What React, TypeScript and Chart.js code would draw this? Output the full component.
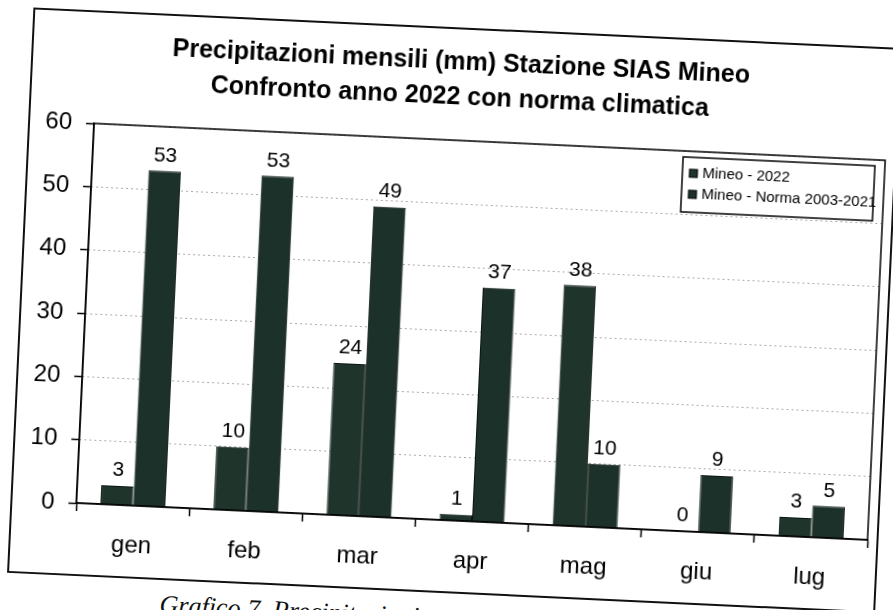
import React, { useEffect, useRef } from "react";
import { Chart, registerables } from "chart.js";

Chart.register(...registerables);

const months = ["gen", "feb", "mar", "apr", "mag", "giu", "lug"];
const mineo2022 = [3, 10, 24, 1, 38, 0, 3];
const norma = [53, 53, 49, 37, 10, 9, 5];
const seriesNames = ["Mineo - 2022", "Mineo - Norma 2003-2021"];
const yMin = 0;
const yMax = 60;
const yStep = 10;
const titleLines = [
  "Precipitazioni mensili (mm) Stazione SIAS Mineo",
  "Confronto anno 2022 con norma climatica",
];
const caption = "Grafico 7. Precipitazioni mensili";

const FONT = "'Liberation Sans', Arial, Helvetica, sans-serif";
const BAR_COLORS = ["#1f352c", "#1c3129"];
const CANVAS_W = 865;
const CANVAS_H = 562;

const valueLabels = {
  id: "valueLabels",
  afterDatasetsDraw(chart: any) {
    const ctx = chart.ctx;
    ctx.save();
    ctx.font = `21px ${FONT}`;
    ctx.fillStyle = "#000";
    ctx.textAlign = "center";
    ctx.textBaseline = "bottom";
    chart.data.datasets.forEach((ds: any, di: number) => {
      const meta = chart.getDatasetMeta(di);
      meta.data.forEach((el: any, i: number) => {
        ctx.fillText(String(ds.data[i]), el.x, el.y - 5);
      });
    });
    ctx.restore();
  },
};

const frameAndLegend = {
  id: "frameAndLegend",
  afterDraw(chart: any) {
    const ctx = chart.ctx;
    const a = chart.chartArea;
    ctx.save();
    // plot area border
    ctx.strokeStyle = "#000";
    ctx.lineWidth = 1.5;
    ctx.strokeRect(a.left, a.top, a.right - a.left, a.bottom - a.top);

    // legend box
    const w = 192;
    const h = 55;
    const lx = a.right - 10 - w;
    const ly = a.top + 6;
    ctx.fillStyle = "#fff";
    ctx.fillRect(lx, ly, w, h);
    ctx.lineWidth = 1.5;
    ctx.strokeRect(lx, ly, w, h);
    ctx.font = `15px ${FONT}`;
    ctx.textAlign = "left";
    ctx.textBaseline = "middle";
    seriesNames.forEach((name, i) => {
      const cy = ly + 16 + i * 21;
      ctx.fillStyle = BAR_COLORS[i];
      ctx.fillRect(lx + 7, cy - 4, 8, 8);
      ctx.strokeStyle = "#000";
      ctx.lineWidth = 1;
      ctx.strokeRect(lx + 7, cy - 4, 8, 8);
      ctx.fillStyle = "#000";
      ctx.fillText(name, lx + 20, cy);
    });
    ctx.restore();
  },
};

export default function App() {
  const canvasRef = useRef<HTMLCanvasElement | null>(null);

  useEffect(() => {
    const canvas = canvasRef.current;
    if (!canvas) return;
    const chart = new Chart(canvas, {
      type: "bar",
      data: {
        labels: months,
        datasets: [
          {
            label: seriesNames[0],
            data: mineo2022,
            backgroundColor: BAR_COLORS[0],
            borderColor: "#0a1410",
            borderWidth: 1,
            categoryPercentage: 0.575,
            barPercentage: 1,
          },
          {
            label: seriesNames[1],
            data: norma,
            backgroundColor: BAR_COLORS[1],
            borderColor: "#0a1410",
            borderWidth: 1,
            categoryPercentage: 0.575,
            barPercentage: 1,
          },
        ],
      },
      options: {
        animation: false,
        responsive: false,
        devicePixelRatio: 1,
        layout: { padding: { left: 0, right: 9, top: 0, bottom: 0 } },
        plugins: {
          legend: { display: false },
          tooltip: { enabled: false },
          title: {
            display: true,
            text: titleLines,
            color: "#000",
            font: { family: FONT, size: 25, weight: "bold", lineHeight: 1.4 },
            padding: { top: 16, bottom: 25 },
          },
        },
        scales: {
          x: {
            offset: true,
            afterFit: (scale: any) => {
              scale.height = 71;
            },
            grid: {
              display: true,
              offset: true,
              drawOnChartArea: false,
              drawTicks: true,
              tickLength: 8,
              tickColor: "#000",
              tickWidth: 1.5,
            },
            border: { display: true, color: "#000", width: 1.5 },
            ticks: {
              color: "#000",
              font: { family: FONT, size: 24 },
              padding: 18,
            },
          },
          y: {
            min: yMin,
            max: yMax,
            afterFit: (scale: any) => {
              scale.width = 64;
            },
            ticks: {
              stepSize: yStep,
              color: "#000",
              font: { family: FONT, size: 24 },
              padding: 14,
            },
            grid: {
              color: "#555",
              lineWidth: 1,
              drawTicks: true,
              tickLength: 8,
              tickColor: "#000",
              tickWidth: 1.5,
              tickBorderDash: [],
            },
            border: { display: true, color: "#000", width: 1.5, dash: [1, 4] },
          },
        },
      },
      plugins: [valueLabels, frameAndLegend],
    } as any);
    return () => chart.destroy();
  }, []);

  return (
    <div
      style={{
        position: "fixed",
        left: 0,
        top: 0,
        width: 893,
        height: 610,
        overflow: "hidden",
        background: "#fff",
      }}
    >
      <div
        style={{
          position: "absolute",
          left: 0,
          top: 0,
          width: 893,
          height: 610,
          transform: "rotate(2.67deg)",
          transformOrigin: "446px 305px",
        }}
      >
        <div
          style={{
            position: "absolute",
            left: 20,
            top: 27,
            width: CANVAS_W + 4,
            height: CANVAS_H + 4,
            border: "2px solid #111",
            boxSizing: "border-box",
            background: "#fff",
          }}
        >
          <canvas
            ref={canvasRef}
            width={CANVAS_W}
            height={CANVAS_H}
            style={{ display: "block", width: CANVAS_W, height: CANVAS_H }}
          />
        </div>
        <div
          style={{
            position: "absolute",
            left: 174,
            top: 603,
            fontFamily: "'Liberation Serif', 'DejaVu Serif', serif",
            fontStyle: "italic",
            fontSize: 26,
            whiteSpace: "nowrap",
            color: "#111",
          }}
        >
          {caption}
        </div>
      </div>
    </div>
  );
}
